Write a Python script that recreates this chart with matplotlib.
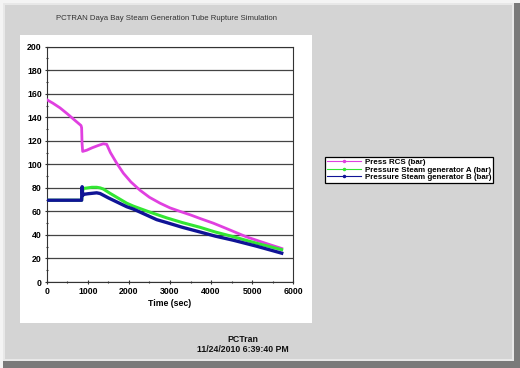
import matplotlib
matplotlib.use("Agg")
import matplotlib.pyplot as plt
from matplotlib.patches import Rectangle
from matplotlib.lines import Line2D
from matplotlib.ticker import MultipleLocator

plt.rcParams['font.family'] = ['Liberation Sans', 'DejaVu Sans']

# --- data (time in sec, pressure in bar) ---
rcs_t = [0, 150, 324, 500, 700, 835, 850, 860, 875, 973, 1100, 1250, 1378, 1460,
         1550, 1703, 1865, 2050, 2270, 2500, 2757, 3000, 3244, 3500, 3730, 4054,
         4300, 4541, 4850, 5190, 5450, 5718]
rcs_v = [155, 152, 148, 143, 137, 133, 131, 118, 111, 112, 114, 116, 117.5, 117,
         110, 101, 92.5, 85, 78, 72, 67, 63, 60, 57, 54, 50,
         46.5, 43, 38.5, 34.5, 31.5, 28.5]

sga_t = [0, 850, 870, 891, 1000, 1100, 1216, 1300, 1378, 1540, 1946, 2108, 2500,
         2920, 3300, 3730, 4100, 4541, 5100, 5718]
sga_v = [69.5, 69.5, 77, 79.5, 80, 80.5, 80.5, 80, 79, 75.4, 67, 64.5, 59.5,
         54.5, 50.5, 46.5, 42.5, 38.5, 33, 27.5]

sgb_t = [0, 850, 855, 862, 868, 875, 900, 1000, 1216, 1300, 1500, 1946, 2108,
         2676, 2920, 3300, 3730, 4100, 4541, 5100, 5718]
sgb_v = [69.5, 69.5, 76, 81, 78, 73.5, 74.5, 75, 75.8, 75.2, 71.5, 64, 62,
         53, 50.5, 46.5, 42.5, 39, 35.5, 30.5, 24.5]

labels = ["Press RCS (bar)", "Pressure Steam generator A (bar)",
          "Pressure Steam generator B (bar)"]
colors = ["#e040e0", "#33e633", "#101496"]

W, H = 520, 368
fig = plt.figure(figsize=(W / 100, H / 100), dpi=100)
fig.patch.set_facecolor("#f4f4f4")


def px_rect(x0, y0, x1, y1, **kw):
    # rectangle in pixel coords (origin top-left), kept behind the axes
    fig.patches.append(Rectangle((x0 / W, 1 - y1 / H), (x1 - x0) / W, (y1 - y0) / H,
                                 transform=fig.transFigure, figure=fig,
                                 zorder=-10, **kw))


# window frame: dark shadow, light edge, gray panel
px_rect(3, 3, 520, 368, facecolor="#7a7a7a", edgecolor="none")
px_rect(3, 3, 514, 361, facecolor="#e8e8e8", edgecolor="none")
px_rect(5, 5, 512, 359, facecolor="#d4d4d4", edgecolor="none")
# white chart area
px_rect(20, 35, 312, 323, facecolor="white", edgecolor="none")

fig.text(166 / W, 1 - 18 / H,
         "PCTRAN Daya Bay Steam Generation Tube Rupture Simulation",
         ha="center", va="center", fontsize=5.6, color="#333333")

ax = fig.add_axes([46.7 / W, 1 - 282 / H, 246.6 / W, 235.3 / H])
ax.set_facecolor("white")

ax.plot(rcs_t, rcs_v, color=colors[0], lw=2.0, zorder=3)
ax.plot(sga_t, sga_v, color=colors[1], lw=2.2, zorder=4)
ax.plot(sgb_t, sgb_v, color=colors[2], lw=2.4, zorder=5)

ax.set_xlim(0, 6000)
ax.set_ylim(0, 200)
ax.yaxis.set_major_locator(MultipleLocator(20))
ax.yaxis.set_minor_locator(MultipleLocator(10))
ax.xaxis.set_major_locator(MultipleLocator(1000))
ax.xaxis.set_minor_locator(MultipleLocator(500))
ax.grid(axis="y", which="major", color="#444444", lw=0.9)
ax.set_axisbelow(True)
for s in ax.spines.values():
    s.set_color("#333333")
    s.set_linewidth(0.8)
ax.tick_params(which="major", length=3, width=0.8, color="#333333",
               labelsize=6.3, pad=2, direction="inout")
ax.tick_params(which="minor", length=2, width=0.8, color="#333333", direction="inout")
for lab in ax.get_xticklabels() + ax.get_yticklabels():
    lab.set_fontweight("bold")
ax.set_xlabel("Time (sec)", fontsize=6.3, fontweight="bold", labelpad=2)

handles = [Line2D([], [], color=c, lw=0.8, marker=".", markersize=3) for c in colors]
leg = fig.legend(handles, labels, loc="upper left",
                 bbox_to_anchor=(325 / W, 1 - 157 / H), borderaxespad=0,
                 fancybox=False, edgecolor="black", framealpha=1,
                 prop={"size": 5.7, "weight": "bold"}, handlelength=4.4,
                 handletextpad=0.5, labelspacing=0.0, borderpad=0.2)
leg.get_frame().set_linewidth(0.9)

fig.text(243 / W, 1 - 339 / H, "PCTran", ha="center", va="center",
         fontsize=6.3, fontweight="bold", color="#111111")
fig.text(243 / W, 1 - 350 / H, "11/24/2010 6:39:40 PM", ha="center", va="center",
         fontsize=6.3, fontweight="bold", color="#111111")

fig.savefig("out.png", dpi=100)
